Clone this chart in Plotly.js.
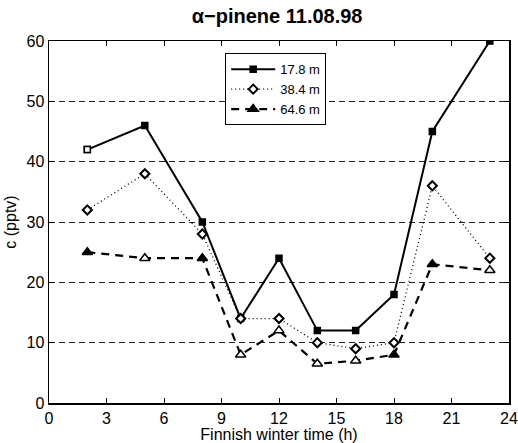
<!DOCTYPE html>
<html><head><meta charset="utf-8">
<script src="https://cdn.plot.ly/plotly-3.0.1.min.js"></script>
<style>html,body{margin:0;padding:0;background:#fff;}#chart{width:518px;height:443px;}</style>
</head><body><div id="chart"></div>
<script>
const hours = [2, 5, 8, 10, 12, 14, 16, 18, 20, 23];
const c17_8 = [42, 46, 30, 14, 24, 12, 12, 18, 45, 60];
const c38_4 = [32, 38, 28, 14, 14, 10, 9, 10, 36, 24];
const c64_6 = [25, 24, 24, 8, 12, 6.5, 7, 8, 23, 22];
const seriesNames = ['17.8 m', '38.4 m', '64.6 m'];
const xTicks = [0, 3, 6, 9, 12, 15, 18, 21, 24];
const yTicks = [0, 10, 20, 30, 40, 50, 60];

// marker fill styles (hollow vs filled) as in the original print
const sqOverlayFill = ['white','rgba(0,0,0,0)','rgba(0,0,0,0)','rgba(0,0,0,0)','rgba(0,0,0,0)','rgba(0,0,0,0)','rgba(0,0,0,0)','rgba(0,0,0,0)','rgba(0,0,0,0)','rgba(0,0,0,0)'];
const sqOverlayLine = ['black','rgba(0,0,0,0)','rgba(0,0,0,0)','rgba(0,0,0,0)','rgba(0,0,0,0)','rgba(0,0,0,0)','rgba(0,0,0,0)','rgba(0,0,0,0)','rgba(0,0,0,0)','rgba(0,0,0,0)'];
const triFill = ['black','white','black','white','white','white','white','black','black','white'];

const font = {family: 'Liberation Sans, Arial, sans-serif', color: '#000'};
const traces = [
  {x: hours, y: c17_8, name: seriesNames[0], mode: 'lines+markers',
   line: {color: '#000', width: 2, dash: 'solid'},
   marker: {symbol: 'square', size: 6, color: '#000', line: {color: '#000', width: 1.5}}},
  {x: hours, y: c17_8, showlegend: false, mode: 'markers', hoverinfo: 'skip',
   marker: {symbol: 'square', size: 6, color: sqOverlayFill, line: {color: sqOverlayLine, width: 1.5}}},
  {x: hours, y: c38_4, name: seriesNames[1], mode: 'lines+markers',
   line: {color: '#000', width: 1.3, dash: '1px,3px'},
   marker: {symbol: 'diamond', size: 7, color: 'white', line: {color: '#000', width: 2}}},
  {x: hours, y: c64_6, name: seriesNames[2], mode: 'lines+markers',
   line: {color: '#000', width: 2.2, dash: '8px,6px'},
   marker: {symbol: 'triangle-up', size: 9, color: triFill, line: {color: '#000', width: 1.5}}}
];

const layout = {
  width: 518, height: 443,
  margin: {l: 49, r: 9, t: 41, b: 40},
  paper_bgcolor: '#fff', plot_bgcolor: '#fff',
  font: Object.assign({size: 16}, font),
  title: {text: '<b>α−pinene 11.08.98</b>', x: 0.535, xanchor: 'center', y: 0.963, yanchor: 'middle',
          font: Object.assign({size: 20}, font)},
  showlegend: true,
  legend: {x: 0.383, y: 0.966, xanchor: 'left', yanchor: 'top', bgcolor: '#fff',
           bordercolor: '#000', borderwidth: 1, font: Object.assign({size: 13}, font),
           tracegroupgap: 0, itemwidth: 44},
  xaxis: {range: [0, 24], tickvals: xTicks, ticktext: xTicks.map(String),
          ticks: 'inside', ticklen: 5, tickwidth: 1, tickcolor: '#000',
          showline: true, linecolor: '#000', linewidth: 1.5, mirror: 'allticks',
          showgrid: false, zeroline: false, tickfont: Object.assign({size: 16}, font),
          title: {text: 'Finnish winter time (h)', standoff: 0, font: Object.assign({size: 16}, font)}},
  yaxis: {range: [0, 60], tickvals: yTicks, ticktext: yTicks.map(String),
          ticks: 'inside', ticklen: 5, tickwidth: 1, tickcolor: '#000',
          showline: true, linecolor: '#000', linewidth: 1.5, mirror: 'allticks',
          showgrid: true, gridcolor: '#222', gridwidth: 1, griddash: '6px,4px',
          zeroline: false, tickfont: Object.assign({size: 16}, font),
          title: {text: 'c (pptv)', standoff: 6, font: Object.assign({size: 16}, font)}}
};
Plotly.newPlot('chart', traces, layout, {displayModeBar: false, staticPlot: true});
</script></body></html>
